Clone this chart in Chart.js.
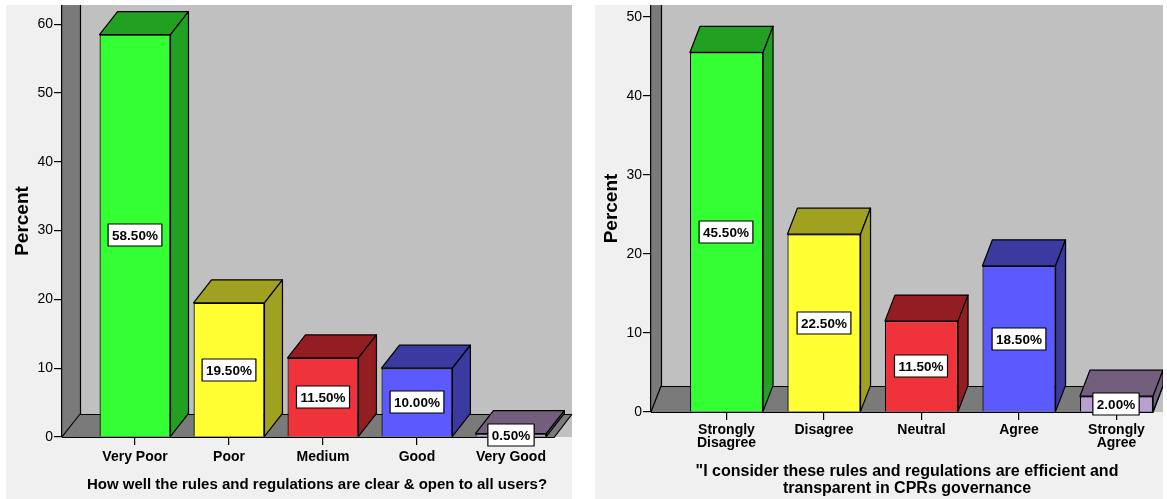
<!DOCTYPE html>
<html>
<head>
<meta charset="utf-8">
<script src="https://cdn.jsdelivr.net/npm/chart.js@4/dist/chart.umd.min.js"></script>
<style>
  body { margin: 0; background: #ffffff; width: 1167px; height: 499px; overflow: hidden; position: relative; }
  canvas { position: absolute; background: #f0f0f0; }
  #grafico_a { left: 6px; top: 5px; }
  #grafico_b { left: 595px; top: 5px; }
</style>
</head>
<body>
<canvas id="grafico_a" width="566" height="494"></canvas>
<canvas id="grafico_b" width="568" height="494"></canvas>
<script>
// DADOS DOS DOIS GRAFICOS
var categorias_a = ["Very Poor", "Poor", "Medium", "Good", "Very Good"];
var valores_a = [58.5, 19.5, 11.5, 10.0, 0.5];
var ticks_a = [0, 10, 20, 30, 40, 50, 60];
var titulo_a = "How well the rules and regulations are clear & open to all users?";

var categorias_b = [["Strongly", "Disagree"], "Disagree", "Neutral", "Agree", ["Strongly", "Agree"]];
var valores_b = [45.5, 22.5, 11.5, 18.5, 2.0];
var ticks_b = [0, 10, 20, 30, 40, 50];
var titulo_b = ['"I consider these rules and regulations are efficient and', 'transparent in CPRs governance'];

// CORES: FRENTE E LADO/TOPO DE CADA BARRA
var cor_frente = ["#33ff33", "#ffff33", "#f0323a", "#5a5aff", "#b9a0d0"];
var cor_lado = ["#21a021", "#a0a021", "#941d21", "#3a3aa0", "#735f7d"];

var fonte = '"Liberation Sans", Arial, sans-serif';

// DESENHA PAREDE, CHAO E FACES 3D DAS BARRAS
var caixa3d = {
  id: 'caixa3d',
  beforeDraw: function (chart, args, opts) {
    var ctx = chart.ctx;
    var a = chart.chartArea;
    var dx = opts.dx, dy = opts.dy;
    var y0 = chart.scales.y.getPixelForValue(0);
    ctx.save();
    ctx.beginPath();
    ctx.rect(a.left, a.top, a.right - a.left, a.bottom - a.top + 1);
    ctx.clip();
    ctx.fillStyle = "#c0c0c0";
    ctx.fillRect(a.left, a.top, a.right - a.left, a.bottom - a.top);
    // parede lateral
    ctx.fillStyle = "#7a7a7a";
    ctx.beginPath();
    ctx.moveTo(a.left, a.top);
    ctx.lineTo(a.left + dx, a.top);
    ctx.lineTo(a.left + dx, y0 - dy);
    ctx.lineTo(a.left, y0);
    ctx.closePath();
    ctx.fill();
    // chao
    ctx.beginPath();
    ctx.moveTo(a.left, y0);
    ctx.lineTo(a.left + dx, y0 - dy);
    ctx.lineTo(a.right, y0 - dy);
    ctx.lineTo(a.right - dx, y0);
    ctx.closePath();
    ctx.fill();
    ctx.strokeStyle = "#000";
    ctx.lineWidth = 1.2;
    ctx.beginPath();
    ctx.moveTo(a.left + dx + 0.5, a.top);
    ctx.lineTo(a.left + dx + 0.5, y0 - dy + 0.5);
    ctx.lineTo(a.right, y0 - dy + 0.5);
    ctx.moveTo(a.left, y0);
    ctx.lineTo(a.left + dx, y0 - dy);
    ctx.moveTo(a.left, y0 + 0.5);
    ctx.lineTo(a.right - dx, y0 + 0.5);
    ctx.lineTo(a.right, y0 - dy);
    ctx.stroke();
    ctx.restore();
  },
  afterDatasetsDraw: function (chart, args, opts) {
    var ctx = chart.ctx;
    var dx = opts.dx, dy = opts.dy;
    var barras = chart.getDatasetMeta(0).data;
    var valores = chart.data.datasets[0].data;
    ctx.save();
    ctx.strokeStyle = "#000";
    ctx.lineWidth = 1.2;
    ctx.lineJoin = "round";
    for (var i = 0; i < barras.length; i++) {
      var b = barras[i];
      var xe = b.x - b.width / 2, xd = b.x + b.width / 2;
      ctx.fillStyle = cor_lado[i];
      // topo
      ctx.beginPath();
      ctx.moveTo(xe, b.y);
      ctx.lineTo(xe + dx, b.y - dy);
      ctx.lineTo(xd + dx, b.y - dy);
      ctx.lineTo(xd, b.y);
      ctx.closePath();
      ctx.fill();
      ctx.stroke();
      // lado
      ctx.beginPath();
      ctx.moveTo(xd, b.y);
      ctx.lineTo(xd + dx, b.y - dy);
      ctx.lineTo(xd + dx, b.base - dy);
      ctx.lineTo(xd, b.base);
      ctx.closePath();
      ctx.fill();
      ctx.stroke();
    }
    // rotulos com porcentagem
    ctx.font = "bold 13.5px " + fonte;
    ctx.textAlign = "center";
    ctx.textBaseline = "middle";
    ctx.lineWidth = 1.2;
    for (var j = 0; j < barras.length; j++) {
      var t = valores[j].y.toFixed(2) + "%";
      var w = ctx.measureText(t).width + 8;
      var cx = Math.round(barras[j].x);
      var cy = Math.round((barras[j].y + barras[j].base) / 2);
      ctx.fillStyle = "#fff";
      ctx.fillRect(cx - w / 2, cy - 11, w, 22);
      ctx.strokeRect(cx - w / 2, cy - 11, w, 22);
      ctx.fillStyle = "#000";
      ctx.fillText(t, cx, cy + 1);
    }
    ctx.restore();
  }
};

function sem_padding(s) {
  s.paddingTop = 0;
  s.paddingBottom = 0;
  s.paddingLeft = 0;
  s.paddingRight = 0;
}

function cria_grafico(id, categorias, valores, ticks, titulo, cfg) {
  var pontos = valores.map(function (v, i) { return { x: i, y: v }; });
  return new Chart(document.getElementById(id), {
    type: 'bar',
    data: {
      datasets: [{
        data: pontos,
        backgroundColor: cor_frente,
        borderColor: "#000",
        borderWidth: 1.2,
        categoryPercentage: 1,
        barPercentage: cfg.barra
      }]
    },
    plugins: [caixa3d],
    options: {
      responsive: false,
      animation: false,
      layout: { padding: 0 },
      plugins: {
        legend: { display: false },
        tooltip: { enabled: false },
        caixa3d: { dx: cfg.dx, dy: cfg.dy }
      },
      scales: {
        x: {
          type: 'linear',
          offset: false,
          min: cfg.xmin,
          max: cfg.xmax,
          afterBuildTicks: function (s) { s.ticks = categorias.map(function (c, i) { return { value: i }; }); },
          afterFit: function (s) { s.height = cfg.altura_x; sem_padding(s); },
          grid: { offset: false, drawOnChartArea: false, color: "#000", tickLength: 8, lineWidth: 1.2 },
          border: { display: false },
          ticks: {
            autoSkip: false, maxRotation: 0, minRotation: 0, padding: cfg.pad_ticks, color: "#000",
            font: { family: fonte, size: 14, weight: 'bold', lineHeight: 0.95 },
            callback: function (v) { return categorias[v]; }
          },
          title: {
            display: true, text: titulo, color: "#000",
            font: { family: fonte, size: cfg.fonte_titulo, weight: 'bold', lineHeight: 1.05 },
            padding: { top: 0, bottom: cfg.pad_titulo }
          }
        },
        y: {
          min: 0,
          max: cfg.ymax,
          afterBuildTicks: function (s) { s.ticks = ticks.map(function (v) { return { value: v }; }); },
          afterFit: function (s) { s.width = 56; sem_padding(s); },
          grid: { drawOnChartArea: false, color: "#000", tickLength: 8, lineWidth: 1.2 },
          border: { display: true, color: "#000", width: 1.2 },
          ticks: { padding: 1, color: "#000", font: { family: fonte, size: 14 } },
          title: {
            display: true, text: "Percent", color: "#000",
            font: { family: fonte, size: 19, weight: 'bold' },
            padding: { top: 5, bottom: 0 }
          }
        }
      }
    }
  });
}

cria_grafico("grafico_a", categorias_a, valores_a, ticks_a, titulo_a,
  { dx: 18, dy: 23, barra: 0.755, xmin: -0.777, xmax: 4.65, ymax: 62.8, altura_x: 62, fonte_titulo: 15, pad_titulo: 6, pad_ticks: 5 });
cria_grafico("grafico_b", categorias_b, valores_b, ticks_b, titulo_b,
  { dx: 10, dy: 26, barra: 0.75, xmin: -0.774, xmax: 4.477, ymax: 51.5, altura_x: 87, fonte_titulo: 16, pad_titulo: 2, pad_ticks: 3 });
</script>
</body>
</html>
